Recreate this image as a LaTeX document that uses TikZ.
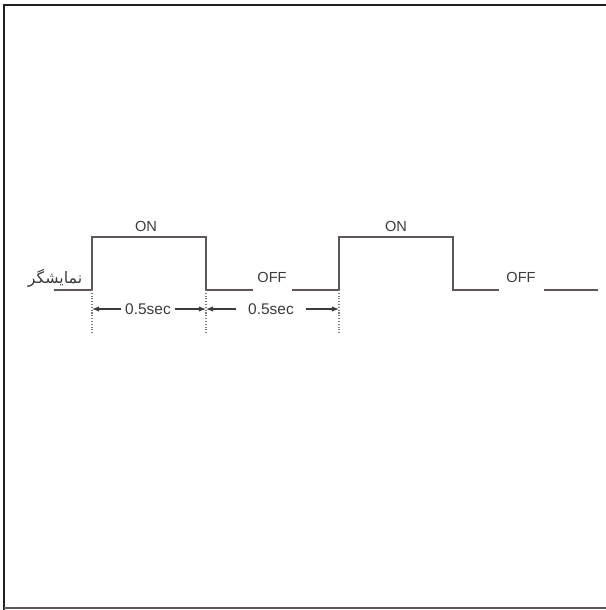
\documentclass[tikz,border=0pt]{standalone}
\usepackage{fontspec}
\setmainfont{Liberation Sans}
\newfontfamily\persianfont[Script=Arabic]{DejaVu Sans}
\TeXXeTstate=1
\usetikzlibrary{arrows.meta,positioning,calc}
\definecolor{wave}{HTML}{5E5658}
\definecolor{txt}{HTML}{3C3A3B}
\definecolor{frm}{HTML}{231F20}
\definecolor{guidegray}{HTML}{7A7A7A}
\tikzset{
  sig/.style={line width=0.8pt,color=wave,line join=miter},
  lvl/.style={font=\fontsize{8.3}{9}\selectfont,text=txt,inner sep=1pt},
  dimlbl/.style={font=\fontsize{8.8}{10}\selectfont,text=txt,inner ysep=1pt,inner xsep=#1},
  dim/.style={-{Latex[length=4pt,width=3pt]},line width=0.6pt,color=txt},
  guide/.style={densely dotted,line width=0.6pt,color=guidegray},
  frameline/.style={line width=#1,color=frm},
}

\begin{document}
\begin{tikzpicture}[x=0.02cm,y=-0.02cm]
  \useasboundingbox (0,0) rectangle (606,610);

  %% ── frame ────────────────────────────────────────────────────────────────
  \draw[frameline=1.2pt] (4,610) -- (4,5) -- (606,5);
  \draw[frameline=0.6pt,color=wave] (4,608) -- (606,608);

  %% ── waveform corners ─────────────────────────────────────────────────────
  \coordinate (s0) at (54,290);
  \coordinate (r1) at (92,290);
  \coordinate (h1) at (92,237);
  \coordinate (h2) at (206,237);
  \coordinate (f1) at (206,290);
  \coordinate (r2) at (339,290);
  \coordinate (h3) at (339,237);
  \coordinate (h4) at (453,237);
  \coordinate (f2) at (453,290);
  \coordinate (e0) at (598,290);

  %% ── level labels ─────────────────────────────────────────────────────────
  \node[lvl] (on1)  at (146,226) {ON};
  \node[lvl] (on2)  at (396,226) {ON};
  \node[lvl] (off1) at (272,277) {OFF};
  \node[lvl] (off2) at (521,277) {OFF};
  \node[font=\persianfont\fontsize{9}{10}\selectfont,text=txt,inner sep=0pt]
        (name) at (55,278) {\beginR نمایشگر\endR};

  %% ── signal ───────────────────────────────────────────────────────────────
  \draw[sig] (s0) -- (r1) -- (h1) -- (h2) -- (f1) -- (f1 -| 253,0);
  \draw[sig] (292,290) -- (r2) -- (h3) -- (h4) -- (f2) -- (499,290);
  \draw[sig] (544,290) -- (e0);

  %% ── timing guides ────────────────────────────────────────────────────────
  \draw[guide] (r1) -- ++(0,44) coordinate (g1);
  \draw[guide] (f1) -- ++(0,44) coordinate (g2);
  \draw[guide] (r2) -- ++(0,44) coordinate (g3);

  %% ── 0.5sec dimensions ────────────────────────────────────────────────────
  \node[dimlbl=2pt] (d1) at (148,309) {0.5sec};
  \node[dimlbl=6.5pt] (d2) at (271,309) {0.5sec};
  \draw[dim] (d1.west) -- (d1.west -| g1);
  \draw[dim] (d1.east) -- (d1.east -| g2);
  \draw[dim] (d2.west) -- (d2.west -| g2);
  \draw[dim] (d2.east) -- (d2.east -| g3);

\end{tikzpicture}
\end{document}
